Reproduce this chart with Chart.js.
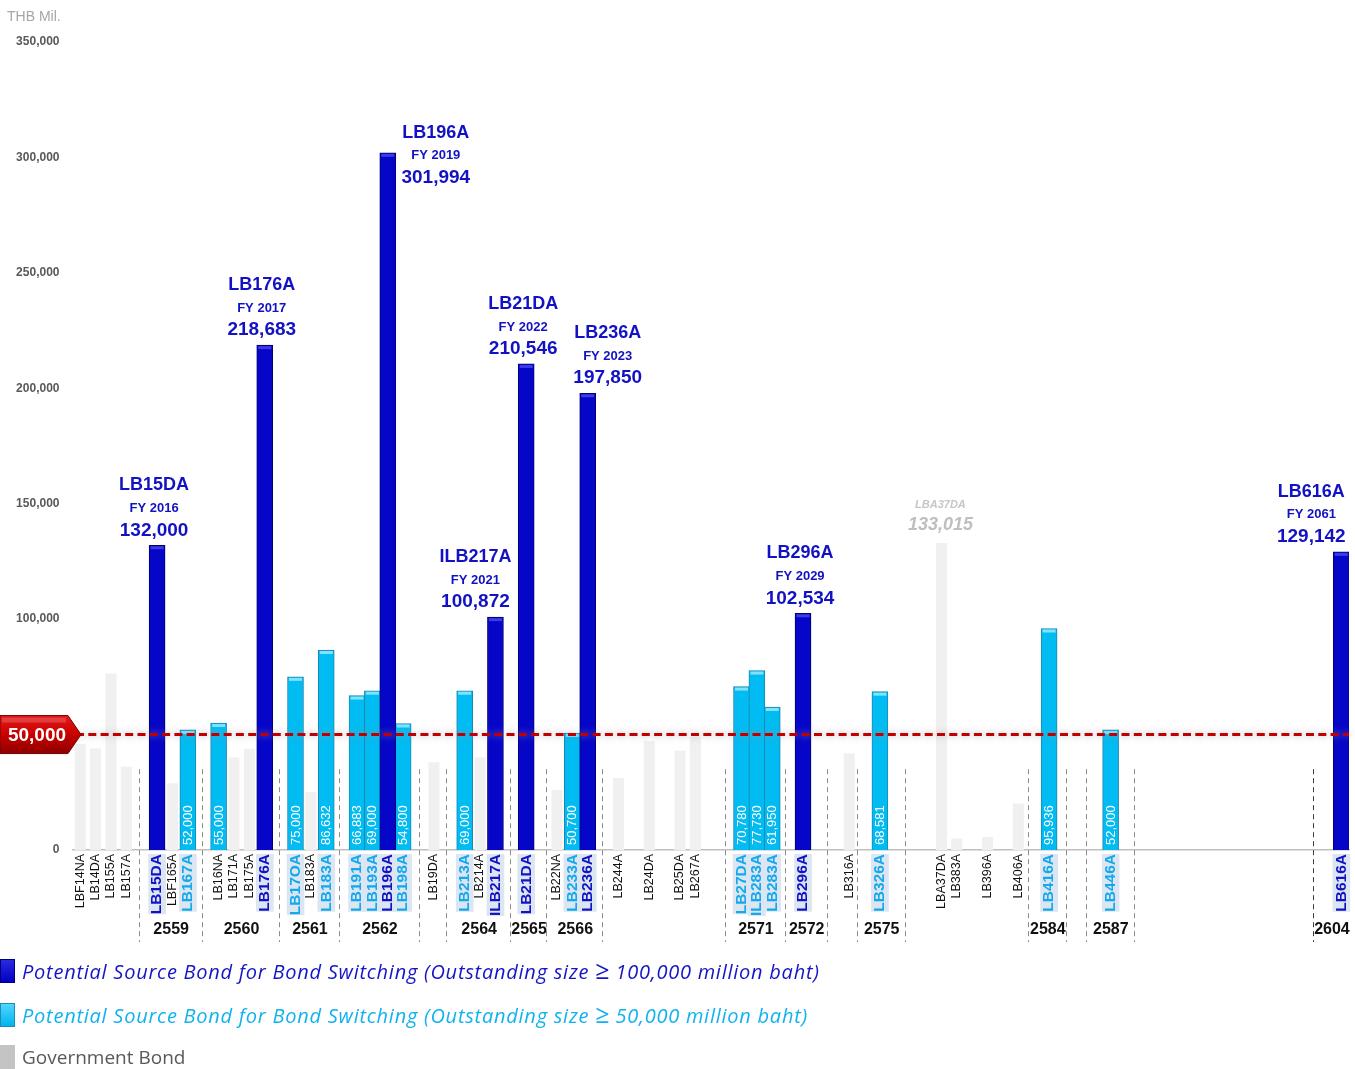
<!DOCTYPE html>
<html>
<head>
<meta charset="utf-8">
<title>Potential Source Bonds for Bond Switching</title>
<script src="https://cdn.jsdelivr.net/npm/chart.js@4.4.1/dist/chart.umd.min.js"></script>
<style>
  html, body { margin: 0; padding: 0; background: #ffffff; }
  #wrap { position: relative; width: 1355px; height: 1069px; overflow: hidden; background: #ffffff; }
  #chart { position: absolute; left: 0; top: 0; }
  .key { position: absolute; left: 0; height: 24px; display: flex; align-items: center; white-space: nowrap; }
  .key .sw { width: 15px; height: 24px; box-sizing: border-box; margin-right: 7px; }
  .key .tx { font-family: 'Open Sans', 'Noto Sans', sans-serif; font-size: 20px; line-height: 24px; }
  .key .ge { font-style: normal; font-size: 25px; line-height: 20px; letter-spacing: 0; }
  .k1 { top: 959px; }
  .k1 .sw { background: linear-gradient(#2a2ae0, #0000c0); border: 1px solid #00007a; }
  .k1 .tx { color: #1414c8; font-style: italic; letter-spacing: 0.75px; }
  .k2 { top: 1003px; }
  .k2 .sw { background: linear-gradient(#4fd6ff, #00b4ee); border: 1px solid #1d8db5; }
  .k2 .tx { color: #10b2ef; font-style: italic; letter-spacing: 0.75px; }
  .k3 { top: 1045px; }
  .k3 .sw { background: #c4c4c4; }
  .k3 .tx { color: #595959; font-size: 19px; }
</style>
</head>
<body>
<div id="wrap">
  <canvas id="chart" width="1355" height="1069"></canvas>
  <div class="key k1"><div class="sw"></div><div class="tx">Potential Source Bond for Bond Switching (Outstanding size <span class="ge">≥</span> 100,000 million baht)</div></div>
  <div class="key k2"><div class="sw"></div><div class="tx">Potential Source Bond for Bond Switching (Outstanding size <span class="ge">≥</span> 50,000 million baht)</div></div>
  <div class="key k3"><div class="sw"></div><div class="tx">Government Bond</div></div>
</div>
<script>
// Bond slots along the maturity axis ('' = empty slot)
const bondLabels = [
  'LBF14NA', 'LB14DA', 'LB155A', 'LB157A', '',
  'LB15DA', 'LBF165A', 'LB167A', '',
  'LB16NA', 'LB171A', 'LB175A', 'LB176A', '',
  'LB17OA', 'LB183A', 'LB183A', '',
  'LB191A', 'LB193A', 'LB196A', 'LB198A', '',
  'LB19DA', '',
  'LB213A', 'LB214A', 'ILB217A', '',
  'LB21DA', '',
  'LB22NA', 'LB233A', 'LB236A', '',
  'LB244A', '', 'LB24DA', '', 'LB25DA', 'LB267A', '', '',
  'LB27DA', 'ILB283A', 'LB283A', '',
  'LB296A', '', '',
  'LB316A', '', 'LB326A', '', '', '',
  'LBA37DA', 'LB383A', '', 'LB396A', '', 'LB406A', '',
  'LB416A', '', '', '', 'LB446A',
  '', '', '', '', '', '', '', '', '', '', '', '', '', '',
  'LB616A'
];

// Other government bonds outstanding (THB mil.)
const govBond = [
  45900, 44000, 76500, 36100, null,
  null, 28900, null, null,
  null, 40100, 43900, null, null,
  null, 25100, null, null,
  null, null, null, null, null,
  38000, null,
  null, 40100, null, null,
  null, null,
  26000, null, null, null,
  31200, null, 47100, null, 43000, 49100, null, null,
  null, null, null, null,
  null, null, null,
  41900, null, null, null, null, null,
  133015, 5000, null, 5600, null, 20100, null,
  null, null, null, null, null,
  null, null, null, null, null, null, null, null, null, null, null, null, null, null,
  null
];

// Source bonds with outstanding size >= 50,000 (THB mil.)
const switch50 = [
  null, null, null, null, null,
  null, null, 52000, null,
  55000, null, null, null, null,
  75000, null, 86632, null,
  66883, 69000, null, 54800, null,
  null, null,
  69000, null, null, null,
  null, null,
  null, 50700, null, null,
  null, null, null, null, null, null, null, null,
  70780, 77730, 61950, null,
  null, null, null,
  null, null, 68581, null, null, null,
  null, null, null, null, null, null, null,
  95936, null, null, null, 52000,
  null, null, null, null, null, null, null, null, null, null, null, null, null, null,
  null
];

// Source bonds with outstanding size >= 100,000 (THB mil.)
const switch100 = [
  null, null, null, null, null,
  132000, null, null, null,
  null, null, null, 218683, null,
  null, null, null, null,
  null, null, 301994, null, null,
  null, null,
  null, null, 100872, null,
  210546, null,
  null, null, 197850, null,
  null, null, null, null, null, null, null, null,
  null, null, null, null,
  102534, null, null,
  null, null, null, null, null, null,
  null, null, null, null, null, null, null,
  null, null, null, null, null,
  null, null, null, null, null, null, null, null, null, null, null, null, null, null,
  129142
];

// Fiscal year of each large source bond
const fiscalYears = {
  LB15DA: 'FY 2016', LB176A: 'FY 2017', LB196A: 'FY 2019', ILB217A: 'FY 2021',
  LB21DA: 'FY 2022', LB236A: 'FY 2023', LB296A: 'FY 2029', LB616A: 'FY 2061'
};

// Maturity-year bands along the axis: [label, from slot, to slot]
const yearBands = [
  ['2559', 3.8, 7.9],
  ['2560', 7.9, 12.95],
  ['2561', 12.95, 16.8],
  ['2562', 16.8, 22.05],
  ['', 22.05, 23.8],
  ['2564', 23.8, 27.95],
  ['2565', 27.95, 30.3],
  ['2566', 30.3, 33.95],
  ['2571', 41.95, 45.8],
  ['2572', 45.8, 48.55],
  ['', 48.55, 50.5],
  ['2575', 50.5, 53.6],
  ['2584', 61.6, 64.1],
  ['2587', 65.4, 68.5],
  ['2604', 80.15, null]
];

const yTicks = [0, 50000, 100000, 150000, 200000, 250000, 300000, 350000];
const switchThreshold = 50000;
const unitLabel = 'THB Mil.';
const plainTickLabels = ['LB16NA'];

// ---- styling ----
const SANS = "'Liberation Sans', Arial, sans-serif";
const NAVY = '#0606c8';
const NAVY_TEXT = '#1212c4';
const CYAN = '#00bcf2';
const CYAN_TEXT = '#14a9ec';
const fmt = v => v.toLocaleString('en-US');

// callout nudges (px) for labels that sit beside their bar
const calloutNudge = { LB196A: [48, 40], ILB217A: [-20, 0], LB236A: [20, 0], LB616A: [-30, 0] };

function tickTone(i) {
  const name = bondLabels[i];
  if (!name || plainTickLabels.includes(name)) return null;
  if (switch100[i] != null) return 'navy';
  if (switch50[i] != null) return 'cyan';
  return null;
}

const decor = {
  id: 'decor',
  beforeDatasetsDraw(chart) {
    const { ctx, chartArea, scales: { x, y } } = chart;
    const top = y.getPixelForValue(35000);
    const bottom = chartArea.bottom + 92;
    const seen = new Set();
    ctx.save();
    ctx.lineWidth = 1;
    ctx.setLineDash([5, 4]);
    yearBands.forEach(([label, a, b], bi) => {
      [a, b].forEach(edge => {
        if (edge == null || seen.has(edge)) return;
        seen.add(edge);
        const px = Math.round(x.getPixelForValue(edge)) + 0.5;
        ctx.strokeStyle = bi === yearBands.length - 1 ? '#3a3a3a' : '#8a8a8a';
        ctx.beginPath();
        ctx.moveTo(px, top);
        ctx.lineTo(px, bottom);
        ctx.stroke();
      });
    });
    ctx.restore();
  },
  afterDatasetsDraw(chart) {
    const { ctx, chartArea, scales: { x, y } } = chart;
    ctx.save();

    // light top caps on the coloured bars
    const capColors = ['#3c3ce6', '#7fe2ff'];
    [0, 1].forEach(di => {
      const values = chart.data.datasets[di].data;
      chart.getDatasetMeta(di).data.forEach((el, i) => {
        if (values[i] == null) return;
        ctx.fillStyle = capColors[di];
        ctx.fillRect(el.x - el.width / 2 + 1.5, el.y + 1, el.width - 3, 3);
      });
    });

    // values written up the cyan bars
    ctx.fillStyle = '#ffffff';
    ctx.font = '13px ' + SANS;
    ctx.textAlign = 'left';
    ctx.textBaseline = 'middle';
    chart.getDatasetMeta(1).data.forEach((el, i) => {
      if (switch50[i] == null) return;
      ctx.save();
      ctx.translate(el.x + 0.5, el.base - 5);
      ctx.rotate(-Math.PI / 2);
      ctx.fillText(fmt(switch50[i]), 0, 0);
      ctx.restore();
    });

    // 50,000 threshold line
    const ly = y.getPixelForValue(switchThreshold);
    ctx.save();
    ctx.strokeStyle = '#c00000';
    ctx.lineWidth = 3;
    ctx.setLineDash([8, 4.3]);
    ctx.shadowColor = 'rgba(150,150,170,0.75)';
    ctx.shadowBlur = 7;
    ctx.beginPath();
    ctx.moveTo(76, ly);
    ctx.lineTo(chartArea.right, ly);
    ctx.stroke();
    ctx.restore();

    // threshold badge
    ctx.save();
    const bt = ly - 19, bb = ly + 19;
    const grad = ctx.createLinearGradient(0, bt, 0, bb);
    grad.addColorStop(0, '#e21a1a');
    grad.addColorStop(0.5, '#c80000');
    grad.addColorStop(1, '#8e0000');
    ctx.fillStyle = grad;
    ctx.beginPath();
    ctx.moveTo(0, bt);
    ctx.lineTo(68, bt);
    ctx.lineTo(81, ly);
    ctx.lineTo(68, bb);
    ctx.lineTo(0, bb);
    ctx.closePath();
    ctx.fill();
    ctx.strokeStyle = '#7a0000';
    ctx.lineWidth = 1;
    ctx.stroke();
    ctx.fillStyle = 'rgba(255,255,255,0.18)';
    ctx.fillRect(2, bt + 2, 64, 5);
    ctx.fillStyle = '#ffffff';
    ctx.font = 'bold 19px ' + SANS;
    ctx.textAlign = 'center';
    ctx.textBaseline = 'middle';
    ctx.fillText(fmt(switchThreshold), 37, ly + 1);
    ctx.restore();

    // callouts above the large source bonds
    ctx.textAlign = 'center';
    ctx.textBaseline = 'middle';
    chart.getDatasetMeta(0).data.forEach((el, i) => {
      if (switch100[i] == null) return;
      const name = bondLabels[i];
      const [dx, dy] = calloutNudge[name] || [-3, 0];
      const cx = el.x + dx, ty = el.y + dy;
      ctx.fillStyle = NAVY_TEXT;
      ctx.font = 'bold 18px ' + SANS;
      ctx.fillText(name, cx, ty - 60);
      ctx.font = 'bold 13px ' + SANS;
      ctx.fillText(fiscalYears[name] || '', cx, ty - 37);
      ctx.font = 'bold 19px ' + SANS;
      ctx.fillText(fmt(switch100[i]), cx, ty - 15);
    });

    // callout for large bonds outside the switching programme
    chart.getDatasetMeta(2).data.forEach((el, i) => {
      if (govBond[i] == null || govBond[i] < 100000) return;
      ctx.fillStyle = '#c6c6c6';
      ctx.font = 'italic bold 11px ' + SANS;
      ctx.fillText(bondLabels[i], el.x - 1, el.y - 38);
      ctx.fillStyle = '#bfbfbf';
      ctx.font = 'italic bold 18px ' + SANS;
      ctx.fillText(fmt(govBond[i]), el.x - 1, el.y - 18);
    });
    ctx.restore();
  },
  afterDraw(chart) {
    const { ctx, chartArea, scales: { x } } = chart;
    ctx.save();
    ctx.fillStyle = '#111111';
    ctx.font = 'bold 16px ' + SANS;
    ctx.textAlign = 'center';
    ctx.textBaseline = 'middle';
    yearBands.forEach(([label, a, b]) => {
      if (!label) return;
      const pa = x.getPixelForValue(a);
      const pb = b == null ? chartArea.right : x.getPixelForValue(b);
      ctx.fillText(label, (pa + pb) / 2 + 1, chartArea.bottom + 80);
    });
    ctx.fillStyle = '#a6a6a6';
    ctx.font = '14px ' + SANS;
    ctx.textAlign = 'left';
    ctx.fillText(unitLabel, 7, 17);
    ctx.restore();
  }
};

new Chart(document.getElementById('chart'), {
  type: 'bar',
  data: {
    labels: bondLabels,
    datasets: [
      {
        label: 'Potential Source Bond for Bond Switching (Outstanding size ≥ 100,000 million baht)',
        data: switch100,
        backgroundColor: NAVY,
        borderColor: '#00006e',
        borderWidth: 1,
        barThickness: 16,
        grouped: false
      },
      {
        label: 'Potential Source Bond for Bond Switching (Outstanding size ≥ 50,000 million baht)',
        data: switch50,
        backgroundColor: CYAN,
        borderColor: '#1f86ad',
        borderWidth: 1,
        barThickness: 16,
        grouped: false
      },
      {
        label: 'Government Bond',
        data: govBond,
        backgroundColor: '#f0f0f0',
        borderWidth: 0,
        barPercentage: 0.72,
        categoryPercentage: 1,
        grouped: false
      }
    ]
  },
  options: {
    responsive: false,
    animation: false,
    devicePixelRatio: 1,
    layout: { padding: { top: 42, right: 6, bottom: 0, left: 0 } },
    plugins: { legend: { display: false }, tooltip: { enabled: false }, title: { display: false } },
    scales: {
      x: {
        type: 'category',
        grid: { display: false, drawTicks: false },
        border: { display: true, color: '#bfbfbf', width: 1.5 },
        ticks: {
          autoSkip: false,
          maxRotation: 90,
          minRotation: 90,
          padding: 4,
          labelOffset: -8.8,
          showLabelBackdrop: true,
          backdropPadding: 0,
          backdropColor: ctx => tickTone(ctx.index) ? '#dce6f2' : 'rgba(0,0,0,0)',
          color: ctx => {
            const t = tickTone(ctx.index);
            return t === 'navy' ? NAVY_TEXT : t === 'cyan' ? CYAN_TEXT : '#111111';
          },
          font: ctx => tickTone(ctx.index)
            ? { family: SANS, size: 15.5, weight: 'bold', lineHeight: 1.14 }
            : { family: SANS, size: 12.5, weight: 'normal', lineHeight: 1.4 }
        },
        afterFit: s => { s.height = 219; s.paddingLeft = 0; s.paddingRight = 0; }
      },
      y: {
        min: 0,
        max: 350000,
        afterBuildTicks: s => { s.ticks = yTicks.map(v => ({ value: v })); },
        grid: { display: false, drawTicks: false },
        border: { display: false },
        ticks: {
          padding: 13,
          color: '#595959',
          font: { family: SANS, size: 12, weight: 'bold' },
          callback: v => fmt(v)
        },
        afterFit: s => { s.width = 72.5; }
      }
    }
  },
  plugins: [decor]
});
</script>
</body>
</html>
